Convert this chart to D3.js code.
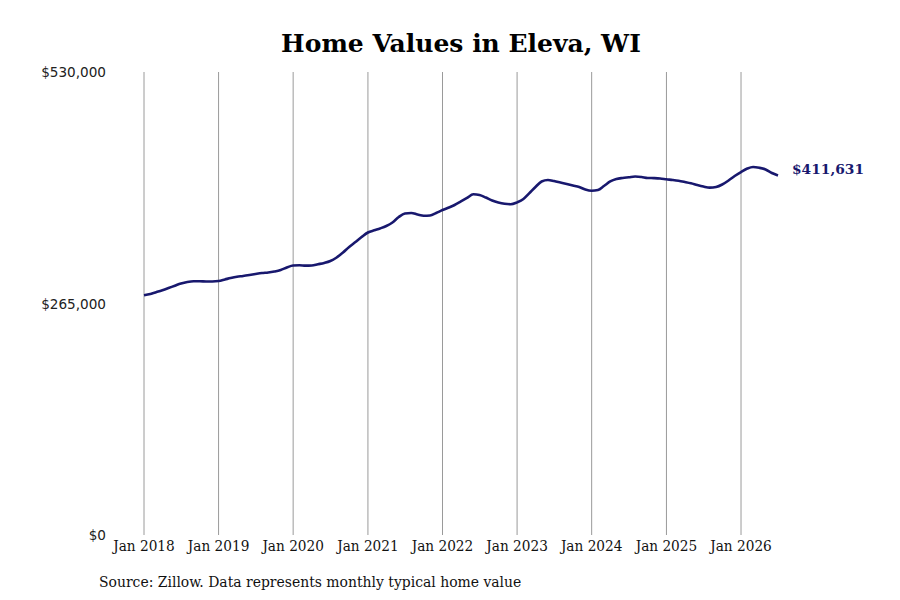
<!DOCTYPE html>
<html>
<head>
<meta charset="utf-8">
<script src="https://cdn.jsdelivr.net/npm/d3@7"></script>
<style>
  body { margin: 0; background: #fff; }
  .serif-c { font-family: "DejaVu Serif Condensed", "DejaVu Serif", serif; font-stretch: condensed; }
</style>
</head>
<body>
<svg id="chart"></svg>
<script>
const title = "Home Values in Eleva, WI";
const sourceNote = "Source: Zillow. Data represents monthly typical home value";
const startMonth = "2018-01";
// monthly typical home value, Jan 2018 - Jul 2026
const values = [
  274400, 275900, 277900, 280200, 282700, 285400, 287900, 289600, 290400, 290400, 290200, 290200,
  290700, 292500, 294200, 295700, 296500, 297600, 298800, 299900, 300500, 301600, 303300, 306200,
  308500, 308700, 308300, 308500, 309900, 311400, 313600, 317700, 323400, 329700, 335400, 341100,
  346300, 348800, 350900, 353700, 357700, 364000, 368000, 368600, 366900, 365500, 365700, 368600,
  372000, 374900, 377800, 381800, 385800, 390000, 389200, 386300, 382900, 380600, 379100, 378600,
  380800, 384600, 391000, 398400, 404700, 406400, 405200, 403500, 401800, 400100, 398400, 395500,
  394100, 395000, 399500, 404700, 407500, 408700, 409500, 410400, 409800, 408700, 408500, 408100,
  407200, 406400, 405500, 404100, 402600, 400600, 398900, 397600, 398400, 401200, 405800, 411000,
  415500, 419500, 421300, 420300, 418400, 414400, 411631
];
const yTicks = [0, 265000, 530000];
const xTickYears = [2018, 2019, 2020, 2021, 2022, 2023, 2024, 2025, 2026];

const width = 900, height = 600;
const margin = { top: 72, right: 122, bottom: 65, left: 144 };

const parse = d3.timeParse("%Y-%m");
const t0 = parse(startMonth);
const data = values.map((v, i) => ({ date: d3.timeMonth.offset(t0, i), value: v }));

const svg = d3.select("#chart").attr("width", width).attr("height", height);

const x = d3.scaleTime()
  .domain(d3.extent(data, d => d.date))
  .range([margin.left, width - margin.right]);

const y = d3.scaleLinear()
  .domain([0, 530000])
  .range([height - margin.bottom, margin.top]);

// vertical gridlines at each January
const xTicks = xTickYears.map(yr => new Date(yr, 0, 1));
svg.append("g")
  .selectAll("line")
  .data(xTicks)
  .join("line")
  .attr("x1", d => x(d)).attr("x2", d => x(d))
  .attr("y1", y(530000)).attr("y2", y(0))
  .attr("stroke", "#9a9a9a")
  .attr("stroke-width", 1);

// x tick labels
svg.append("g")
  .selectAll("text")
  .data(xTicks)
  .join("text")
  .attr("class", "serif-c")
  .attr("x", d => x(d))
  .attr("y", y(0) + 16)
  .attr("text-anchor", "middle")
  .style("font-size", "15.2px")
  .attr("fill", "#111")
  .text(d3.timeFormat("Jan %Y"));

// y tick labels
svg.append("g")
  .selectAll("text")
  .data(yTicks)
  .join("text")
  .attr("x", 106)
  .attr("y", d => y(d) + 1)
  .attr("dominant-baseline", "middle")
  .attr("text-anchor", "end")
  .style("font-family", "'DejaVu Sans', sans-serif")
  .style("font-size", "13.6px")
  .attr("fill", "#222")
  .text(d => "$" + d3.format(",")(d));

// line
const line = d3.line()
  .x(d => x(d.date))
  .y(d => y(d.value))
  .curve(d3.curveMonotoneX);

svg.append("path")
  .datum(data)
  .attr("fill", "none")
  .attr("stroke", "#18186e")
  .attr("stroke-width", 2.6)
  .attr("stroke-linejoin", "round")
  .attr("d", line);

// end label
const last = data[data.length - 1];
svg.append("text")
  .attr("x", x(last.date) + 14)
  .attr("y", y(last.value) - 5)
  .attr("dominant-baseline", "middle")
  .style("font-family", "'DejaVu Serif', serif")
  .style("font-weight", "bold")
  .style("font-size", "13.8px")
  .attr("fill", "#18186e")
  .text("$" + d3.format(",")(last.value));

// title
svg.append("text")
  .attr("x", 461)
  .attr("y", 52)
  .attr("text-anchor", "middle")
  .style("font-family", "'DejaVu Serif', serif")
  .style("font-weight", "bold")
  .style("font-size", "25px")
  .attr("fill", "#000")
  .text(title);

// source
svg.append("text")
  .attr("class", "serif-c")
  .attr("x", 99)
  .attr("y", 587)
  .style("font-size", "15.5px")
  .attr("fill", "#111")
  .text(sourceNote);
</script>
</body>
</html>
